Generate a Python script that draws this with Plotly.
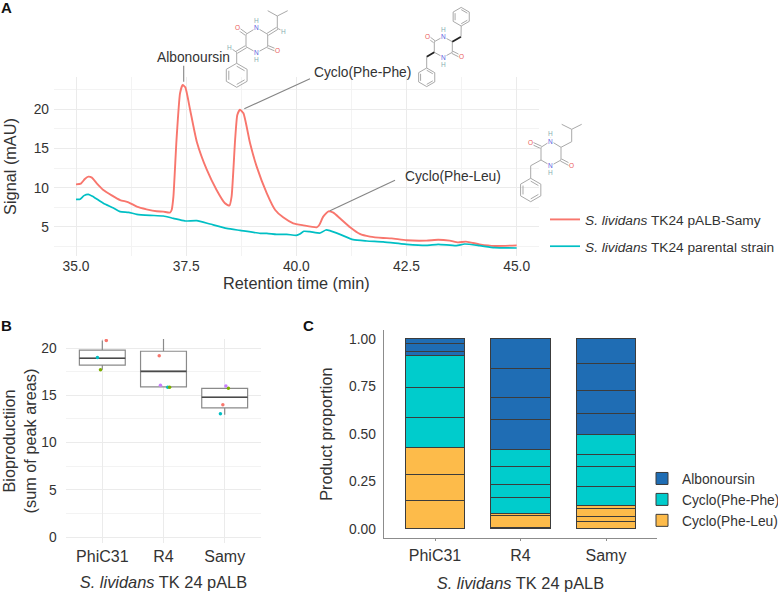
import math
import plotly.graph_objects as go

W, H = 778, 592
FONT = "Liberation Sans"
INK = "#333333"

# Panel A: HPLC traces (retention time in min, signal in mAU)
samy_time = [35.00, 35.11, 35.20, 35.28, 35.36, 35.47, 35.62, 35.81, 36.00, 36.19, 36.38, 36.60, 36.83, 36.98,
             37.13, 37.17, 37.21, 37.28, 37.36, 37.42, 37.48, 37.59, 37.74, 37.97, 38.19, 38.38, 38.48, 38.53,
             38.61, 38.66, 38.72, 38.80, 38.95, 39.10, 39.33, 39.52, 39.70, 39.93, 40.16, 40.46, 40.52, 40.61,
             40.73, 40.84, 40.99, 41.22, 41.44, 41.67, 41.97, 42.16, 42.50, 42.95, 43.22, 43.48, 43.67, 43.85,
             44.16, 44.50, 45.00]
samy_signal = [10.44, 10.53, 11.12, 11.42, 11.29, 10.57, 9.72, 9.04, 8.44, 8.15, 7.59, 7.25, 7.00, 6.96,
               6.83, 7.17, 8.87, 16.10, 22.05, 23.11, 22.81, 19.92, 15.88, 12.27, 9.72, 8.02, 7.72, 8.87,
               16.10, 19.29, 19.97, 19.50, 15.67, 12.70, 9.29, 7.17, 6.23, 5.47, 5.21, 4.96, 5.26, 6.32,
               7.00, 6.83, 6.11, 4.96, 4.11, 3.77, 3.60, 3.55, 3.30, 3.26, 3.38, 3.26, 3.04, 3.13,
               2.79, 2.58, 2.66]
parental_time = [35.00, 35.09, 35.18, 35.28, 35.39, 35.62, 35.85, 36.00, 36.19, 36.38, 36.68, 36.98, 37.21, 37.47,
                 37.74, 38.04, 38.42, 38.72, 39.18, 39.33, 39.55, 39.78, 40.00, 40.08, 40.17, 40.31, 40.54, 40.67,
                 40.76, 40.99, 41.29, 41.60, 41.97, 42.35, 42.50, 42.95, 43.22, 43.63, 43.82, 44.16, 44.50, 45.00]
parental_signal = [8.53, 8.53, 9.00, 9.17, 8.87, 8.02, 7.42, 6.96, 6.87, 6.62, 6.49, 6.40, 6.10, 5.77,
                   5.81, 5.38, 4.83, 4.57, 4.19, 4.19, 4.06, 4.06, 3.94, 4.11, 4.45, 4.40, 4.23, 4.62,
                   4.53, 4.06, 3.38, 3.21, 3.09, 2.87, 2.79, 2.66, 2.79, 2.62, 2.83, 2.62, 2.36, 2.32]

# Panel B: bioproduction box summaries and replicates
strains = ["PhiC31", "R4", "Samy"]
strain_pos = [1, 2, 3]
box_low = [17.7, 15.9, 12.96]
box_q1 = [18.2, 15.9, 13.67]
box_median = [18.93, 17.55, 14.8]
box_q3 = [19.8, 19.67, 15.75]
box_high = [20.8, 21.5, 15.75]

replicate_red_x = [1.065, 1.93, 2.97]
replicate_red_y = [20.8, 19.2, 14.0]
replicate_teal_x = [0.92, 2.07, 2.93]
replicate_teal_y = [19.0, 15.85, 13.05]
replicate_green_x = [0.97, 2.10, 3.06]
replicate_green_y = [17.7, 15.85, 15.75]
replicate_purple_x = [1.95, 3.02]
replicate_purple_y = [16.07, 16.0]

# Panel C: stacked product proportions per replicate, bottom to top
cyclo_leu = {"PhiC31": [0.149, 0.135, 0.142],
             "R4": [0.007, 0.065, 0.007],
             "Samy": [0.039, 0.024, 0.042, 0.018]}
cyclo_phe = {"PhiC31": [0.158, 0.158, 0.168],
             "R4": [0.088, 0.066, 0.093, 0.093],
             "Samy": [0.102, 0.105, 0.063, 0.103]}
albonoursin = {"PhiC31": [0.023, 0.042, 0.025],
               "R4": [0.156, 0.114, 0.155, 0.156],
               "Samy": [0.109, 0.121, 0.144, 0.130]}

RED, TEAL, GREEN, PURPLE = "#F8766D", "#00BFC4", "#7CAE00", "#C77CFF"
GRID, GRID_MINOR = "#ebebeb", "#f3f3f3"


def px(x):
    return x / W


def py(y):
    return 1 - y / H


shapes = []
notes = []


def segment(x0, y0, x1, y1, color="#a9a9a9", width=1.0):
    shapes.append(dict(type="line", xref="paper", yref="paper",
                       x0=px(x0), y0=py(y0), x1=px(x1), y1=py(y1),
                       line=dict(color=color, width=width)))


def double_bond(x0, y0, x1, y1, gap=1.2):
    length = math.hypot(x1 - x0, y1 - y0)
    nx, ny = -(y1 - y0) / length * gap, (x1 - x0) / length * gap
    segment(x0 + nx, y0 + ny, x1 + nx, y1 + ny)
    segment(x0 - nx, y0 - ny, x1 - nx, y1 - ny)


def benzene(cx, cy, r):
    pts = [(cx + r * math.cos(math.radians(a)), cy + r * math.sin(math.radians(a)))
           for a in (-90, -30, 30, 90, 150, 210)]
    for i in range(6):
        a, b = pts[i], pts[(i + 1) % 6]
        segment(a[0], a[1], b[0], b[1])
        if i % 2 == 0:
            s = 0.76
            segment(cx + (a[0] - cx) * s, cy + (a[1] - cy) * s, cx + (b[0] - cx) * s, cy + (b[1] - cy) * s)


def atom(x, y, label):
    color = {"O": "#ea5a5a", "N": "#5a62e0", "H": "#86aeb0"}[label]
    notes.append(dict(x=px(x), y=py(y), xref="paper", yref="paper", text=label, showarrow=False,
                      xanchor="center", yanchor="middle", bgcolor="white", borderpad=0,
                      font=dict(family=FONT, size=6.5, color=color)))


def label(x, y, text, size=13.8, anchor="left", weight="normal"):
    notes.append(dict(x=px(x), y=py(y), xref="paper", yref="paper", text=text, showarrow=False,
                      xanchor=anchor, yanchor="middle",
                      font=dict(family=FONT, size=size, color="#111" if weight == "bold" else INK, weight=weight)))


def ring(n1, c2, c3, n4, c5, c6, o6, o3):
    # Diketopiperazine core with its two carbonyls and N-H groups
    for a, b in ((n1, c2), (c2, c3), (c3, n4), (n4, c5), (c5, c6), (c6, n1)):
        segment(a[0], a[1], b[0], b[1])
    double_bond(c6[0], c6[1], o6[0], o6[1])
    double_bond(c3[0], c3[1], o3[0], o3[1])
    segment(n1[0], n1[1], n1[0], n1[1] - 7)
    segment(n4[0], n4[1], n4[0], n4[1] + 7)
    atom(o6[0], o6[1], "O")
    atom(o3[0], o3[1], "O")
    atom(n1[0], n1[1], "N")
    atom(n4[0], n4[1], "N")
    atom(n1[0], n1[1] - 7.5, "H")
    atom(n4[0], n4[1] + 7.0, "H")


# Albonoursin
ring((256.7, 27.7), (267.7, 34.3), (267.7, 46.7), (256.7, 52.7), (246, 46.7), (246, 34.3),
     (237.3, 28), (277.3, 50.7))
double_bond(267.7, 34.3, 277.3, 28.3)
segment(277.3, 28.3, 282, 30.5)
atom(283.3, 31, "H")
segment(277.3, 28.3, 277.3, 16)
segment(277.3, 16, 267.7, 10.7)
segment(277.3, 16, 287.7, 10.7)
double_bond(246, 46.7, 236.7, 52.3)
segment(236.7, 52.3, 232, 49)
atom(230, 47.3, "H")
segment(236.7, 52.3, 236.7, 63.3)
benzene(236.7, 75.3, 12)

# Cyclo(Phe-Phe)
ring((443.3, 36.7), (452.3, 41.7), (452.3, 52.3), (443.3, 57.3), (434.3, 52.3), (434.3, 41.7),
     (427.7, 36.7), (461, 56.7))
segment(452.3, 41.7, 461, 36.7, color="#222", width=1.8)
segment(461, 36.7, 461.2, 26)
benzene(461.2, 16.7, 9.3)
segment(434.3, 52.3, 426.7, 56.7, color="#222", width=1.8)
segment(426.7, 56.7, 426.7, 68)
benzene(426.7, 77.3, 9.3)

# Cyclo(Phe-Leu)
ring((550.7, 141), (561, 147.3), (561, 160), (550.7, 165.7), (541, 160), (541, 147.3),
     (530, 142.3), (571, 165.3))
segment(561, 147.3, 571.7, 141.7)
segment(571.7, 141.7, 571.7, 129.3)
segment(571.7, 129.3, 561.7, 124.3)
segment(571.7, 129.3, 581.7, 124.3)
segment(541, 160, 530.7, 165.7)
segment(530.7, 165.7, 530.7, 178.3)
benzene(530.7, 190, 11.7)

# Peak call-outs
LEADER = "#858585"
segment(183.7, 65.7, 183.7, 81.7, color=LEADER, width=1.1)
segment(244.3, 108.7, 310, 78.7, color=LEADER, width=1.1)
segment(330, 210.7, 395, 180.3, color=LEADER, width=1.1)
label(154.5, 57.3, "Albonoursin")
label(312, 72.7, "Cyclo(Phe-Phe)")
label(402.5, 176.7, "Cyclo(Phe-Leu)")

# Panel letters
label(-1, 8, "A", size=15, weight="bold")
label(-1, 325, "B", size=15, weight="bold")
label(301, 325, "C", size=15, weight="bold")

fig = go.Figure()

# Panel A traces
fig.add_trace(go.Scatter(x=samy_time, y=samy_signal, mode="lines", xaxis="x", yaxis="y",
                         line=dict(color=RED, width=1.9, shape="spline", smoothing=0.5),
                         name="<i>S. lividans</i> TK24 pALB-Samy", legend="legend", legendgroup="samy"))
fig.add_trace(go.Scatter(x=parental_time, y=parental_signal, mode="lines", xaxis="x", yaxis="y",
                         line=dict(color=TEAL, width=1.7, shape="spline", smoothing=0.5),
                         name="<i>S. lividans</i> TK24 parental strain", legend="legend", legendgroup="parental"))

# Panel B boxes, medians and replicate points
BOX_WIDTH = 0.75
fig.add_trace(go.Box(x=strain_pos, lowerfence=box_low, q1=box_q1, median=box_median, q3=box_q3,
                     upperfence=box_high, width=BOX_WIDTH, xaxis="x2", yaxis="y2", showlegend=False,
                     fillcolor="white", whiskerwidth=0, line=dict(color="#8a8a8a", width=1.2)))
for pos, med in zip(strain_pos, box_median):
    fig.add_trace(go.Scatter(x=[pos - BOX_WIDTH / 2, pos + BOX_WIDTH / 2], y=[med, med], mode="lines",
                             xaxis="x2", yaxis="y2", showlegend=False, line=dict(color="#4a4a4a", width=1.7)))
for xs, ys, color in ((replicate_red_x, replicate_red_y, RED), (replicate_teal_x, replicate_teal_y, TEAL),
                      (replicate_green_x, replicate_green_y, GREEN), (replicate_purple_x, replicate_purple_y, PURPLE)):
    fig.add_trace(go.Scatter(x=xs, y=ys, mode="markers", xaxis="x2", yaxis="y2", showlegend=False,
                             marker=dict(color=color, size=3.5)))

# Panel C stacked bars
for product, parts, color in (("Cyclo(Phe-Leu)", cyclo_leu, "#FDBB4A"),
                              ("Cyclo(Phe-Phe)", cyclo_phe, "#00CCCC"),
                              ("Albonoursin", albonoursin, "#1F6DB4")):
    first = True
    for strain in strains:
        for part in parts[strain]:
            fig.add_trace(go.Bar(x=[strain], y=[part], name=product, xaxis="x3", yaxis="y3",
                                 marker=dict(color=color, line=dict(color="#3c3c3c", width=1)),
                                 legend="legend2", showlegend=first))
            first = False

tick = dict(family=FONT, size=13.8, color=INK)
title = dict(family=FONT, size=16.3, color=INK)
strain_title = "<i>S. lividans</i> TK 24 pALB"
strain_title_font = dict(family=FONT, size=16.4, color=INK)

fig.update_layout(
    width=W, height=H, autosize=False, margin=dict(l=0, r=0, t=0, b=0, autoexpand=False),
    paper_bgcolor="white", plot_bgcolor="white", barmode="stack", bargap=0.3,
    showlegend=True, shapes=shapes, annotations=notes,
    font=dict(family=FONT),
    legend=dict(x=px(545), y=py(204), xanchor="left", yanchor="top", bgcolor="rgba(0,0,0,0)",
                tracegroupgap=6, font=dict(family=FONT, size=13.7, color=INK)),
    legend2=dict(x=px(642), y=py(463), xanchor="left", yanchor="top", bgcolor="rgba(0,0,0,0)",
                 traceorder="reversed", font=dict(family=FONT, size=13.8, color=INK)),
    xaxis=dict(domain=[px(54), px(538.7)], range=[34.5, 45.5], anchor="y", tickvals=[35, 37.5, 40, 42.5, 45],
               ticktext=["35.0", "37.5", "40.0", "42.5", "45.0"], showgrid=True, gridcolor=GRID, gridwidth=1.2,
               zeroline=False, ticks="", tickfont=tick,
               minor=dict(tickvals=[36.25, 38.75, 41.25, 43.75], showgrid=True, gridcolor=GRID_MINOR, gridwidth=1),
               title=dict(text="Retention time (min)", font=title, standoff=3)),
    yaxis=dict(domain=[py(256), py(77)], range=[1.3, 24.13], anchor="x", tickvals=[5, 10, 15, 20],
               showgrid=True, gridcolor=GRID, gridwidth=1.2, zeroline=False, ticks="", tickfont=tick,
               ticklabelstandoff=4,
               minor=dict(tickvals=[2.5, 7.5, 12.5, 17.5, 22.5], showgrid=True, gridcolor=GRID_MINOR, gridwidth=1),
               title=dict(text="Signal (mAU)", font=title, standoff=12)),
    xaxis2=dict(domain=[px(65.6), px(261.4)], range=[0.4, 3.6], anchor="y2", tickvals=strain_pos, ticktext=strains,
                showgrid=True, gridcolor=GRID, gridwidth=1, zeroline=False, ticks="",
                tickfont=dict(family=FONT, size=16, color=INK), ticklabelstandoff=2,
                title=dict(text=strain_title, font=strain_title_font, standoff=12)),
    yaxis2=dict(domain=[py(543), py(339)], range=[-0.636, 20.97], anchor="x2", tickvals=[0, 5, 10, 15, 20],
                showgrid=True, gridcolor=GRID, gridwidth=1.2, zeroline=False, ticks="", tickfont=tick,
                ticklabelstandoff=8,
                minor=dict(tickvals=[2.5, 7.5, 12.5, 17.5], showgrid=True, gridcolor=GRID_MINOR, gridwidth=1),
                title=dict(text="Bioproductiion<br>(sum of peak areas)", font=title, standoff=0)),
    xaxis3=dict(domain=[px(383.7), px(657.3)], range=[-0.6, 2.6], anchor="y3", type="category",
                categoryorder="array", categoryarray=strains, showline=True, linecolor="#8c8c8c", linewidth=1.2,
                showgrid=False, zeroline=False, ticks="outside", ticklen=2, tickcolor="#8c8c8c",
                tickfont=dict(family=FONT, size=16, color=INK), ticklabelstandoff=0,
                title=dict(text=strain_title, font=strain_title_font, standoff=14)),
    yaxis3=dict(domain=[py(538.3), py(330)], range=[-0.05, 1.046], anchor="x3", tickvals=[0, 0.25, 0.5, 0.75, 1],
                ticktext=["0.00", "0.25", "0.50", "0.75", "1.00"], showline=True, linecolor="#8c8c8c", linewidth=1.2,
                showgrid=False, zeroline=False, ticks="", tickfont=tick, ticklabelstandoff=4,
                title=dict(text="Product proportion", font=dict(family=FONT, size=16.2, color=INK), standoff=12)),
)

fig.write_html("out.html")
